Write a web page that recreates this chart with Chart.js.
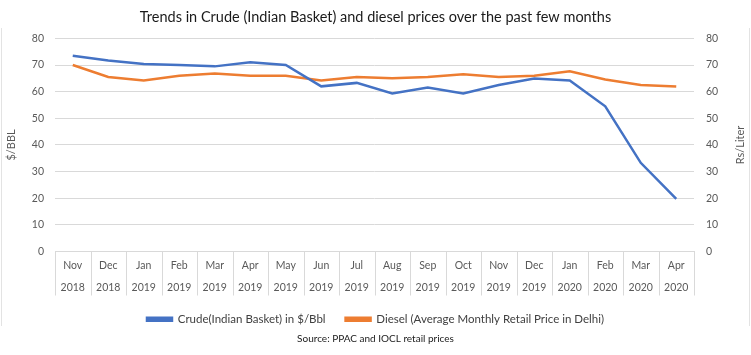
<!DOCTYPE html>
<html>
<head>
<meta charset="utf-8">
<script src="https://cdn.jsdelivr.net/npm/chart.js@4.4.1/dist/chart.umd.min.js"></script>
<style>
  html, body { margin: 0; padding: 0; background: #ffffff; }
  #wrap { position: relative; width: 751px; height: 355px; }
  .edge { position: absolute; top: 28px; height: 298px; width: 1px; background: #e3e3e3; }
</style>
</head>
<body>
<div id="wrap">
  <div class="edge" style="left:1px"></div>
  <div class="edge" style="left:749px"></div>
  <canvas id="c" width="751" height="355"></canvas>
</div>
<script>
const months = ['Nov','Dec','Jan','Feb','Mar','Apr','May','Jun','Jul','Aug','Sep','Oct','Nov','Dec','Jan','Feb','Mar','Apr'];
const years  = ['2018','2018','2019','2019','2019','2019','2019','2019','2019','2019','2019','2019','2019','2019','2020','2020','2020','2020'];
const crude  = [73.5, 71.7, 70.4, 70.0, 69.5, 71.0, 70.0, 62.0, 63.3, 59.3, 61.6, 59.3, 62.5, 64.9, 64.2, 54.5, 33.3, 19.8];
const diesel = [70.0, 65.5, 64.2, 66.0, 66.8, 66.0, 66.0, 64.2, 65.5, 65.0, 65.5, 66.5, 65.5, 66.0, 67.7, 64.6, 62.5, 61.9];
const yTicks = [0, 10, 20, 30, 40, 50, 60, 70, 80];
const rightTitle = 'Rs/Liter';

const labels = months.map((m, i) => [m, years[i]]);
const tickColor = '#595959';
const gridColor = '#d9d9d9';
const FONT = 'Lato, "Open Sans", sans-serif';

// Multi-level category separators, right-hand axis title (read bottom-to-top), legend height trim
const extras = {
  id: 'extras',
  afterInit(chart) {
    const lg = chart.legend;
    if (lg && !lg._trimmed) {
      const orig = lg.fit;
      lg.fit = function () { orig.call(this); this.height -= 4; };
      lg._trimmed = true;
    }
  },
  afterDraw(chart) {
    const ctx = chart.ctx;
    const xs = chart.scales.x;
    const n = chart.data.labels.length;
    const step = (xs.right - xs.left) / n;
    ctx.save();
    ctx.strokeStyle = gridColor;
    ctx.lineWidth = 1;
    for (let i = 0; i <= n; i++) {
      const x = Math.round(xs.left + i * step) + 0.5;
      ctx.beginPath();
      ctx.moveTo(x, xs.top);
      ctx.lineTo(x, xs.top + 44);
      ctx.stroke();
    }
    const ca = chart.chartArea;
    ctx.translate(740, (ca.top + ca.bottom) / 2);
    ctx.rotate(-Math.PI / 2);
    ctx.fillStyle = tickColor;
    ctx.font = '11px ' + FONT;
    ctx.textAlign = 'center';
    ctx.textBaseline = 'middle';
    ctx.fillText(rightTitle, 0, 0);
    ctx.restore();
  }
};

new Chart(document.getElementById('c'), {
  type: 'line',
  data: {
    labels: labels,
    datasets: [
      { label: 'Crude(Indian Basket) in $/Bbl', data: crude, borderColor: '#4472C4', backgroundColor: '#4472C4',
        borderWidth: 2.5, pointRadius: 0, tension: 0, yAxisID: 'y' },
      { label: 'Diesel (Average Monthly Retail Price in Delhi)', data: diesel, borderColor: '#ED7D31', backgroundColor: '#ED7D31',
        borderWidth: 2.5, pointRadius: 0, tension: 0, yAxisID: 'y2' }
    ]
  },
  options: {
    responsive: false,
    animation: false,
    layout: { padding: { left: 0, right: 0, top: 0, bottom: 6 } },
    plugins: {
      title: { display: true, text: 'Trends in Crude (Indian Basket) and diesel prices over the past few months',
        color: '#1a1a1a', font: { family: FONT, size: 14.5, weight: 'normal' }, padding: { top: 9, bottom: 12 } },
      subtitle: { display: true, position: 'bottom', text: 'Source: PPAC and IOCL retail prices',
        color: '#1a1a1a', font: { family: FONT, size: 10, weight: 'normal' }, padding: { top: 2, bottom: 4 } },
      legend: { position: 'bottom', labels: { color: '#404040', font: { family: FONT, size: 11.5 },
        boxWidth: 25, boxHeight: 3, padding: 20 } },
      tooltip: { enabled: false }
    },
    scales: {
      x: {
        offset: true,
        afterFit: (s) => { s.height = 42; s.paddingLeft = 0; s.paddingRight = 0; },
        grid: { display: false, drawTicks: false },
        border: { display: true, color: gridColor },
        ticks: { color: tickColor, font: { family: FONT, size: 10.5, lineHeight: 2.1 }, padding: 3, maxRotation: 0, autoSkip: false }
      },
      y: {
        position: 'left', min: 0, max: 80,
        afterBuildTicks: (s) => { s.ticks = yTicks.map(v => ({ value: v })); },
        afterFit: (s) => { s.width = 55; },
        grid: { color: gridColor, drawTicks: false },
        border: { display: false },
        ticks: { color: tickColor, font: { family: FONT, size: 10.5 }, padding: 11 },
        title: { display: true, text: '$/BBL', color: tickColor, font: { family: FONT, size: 11 }, padding: { top: 5, bottom: 10 } }
      },
      y2: {
        position: 'right', min: 0, max: 80,
        afterBuildTicks: (s) => { s.ticks = yTicks.map(v => ({ value: v })); },
        afterFit: (s) => { s.width = 57; },
        grid: { drawOnChartArea: false, drawTicks: false },
        border: { display: false },
        ticks: { color: tickColor, font: { family: FONT, size: 10.5 }, padding: 12 }
      }
    }
  },
  plugins: [extras]
});
</script>
</body>
</html>
